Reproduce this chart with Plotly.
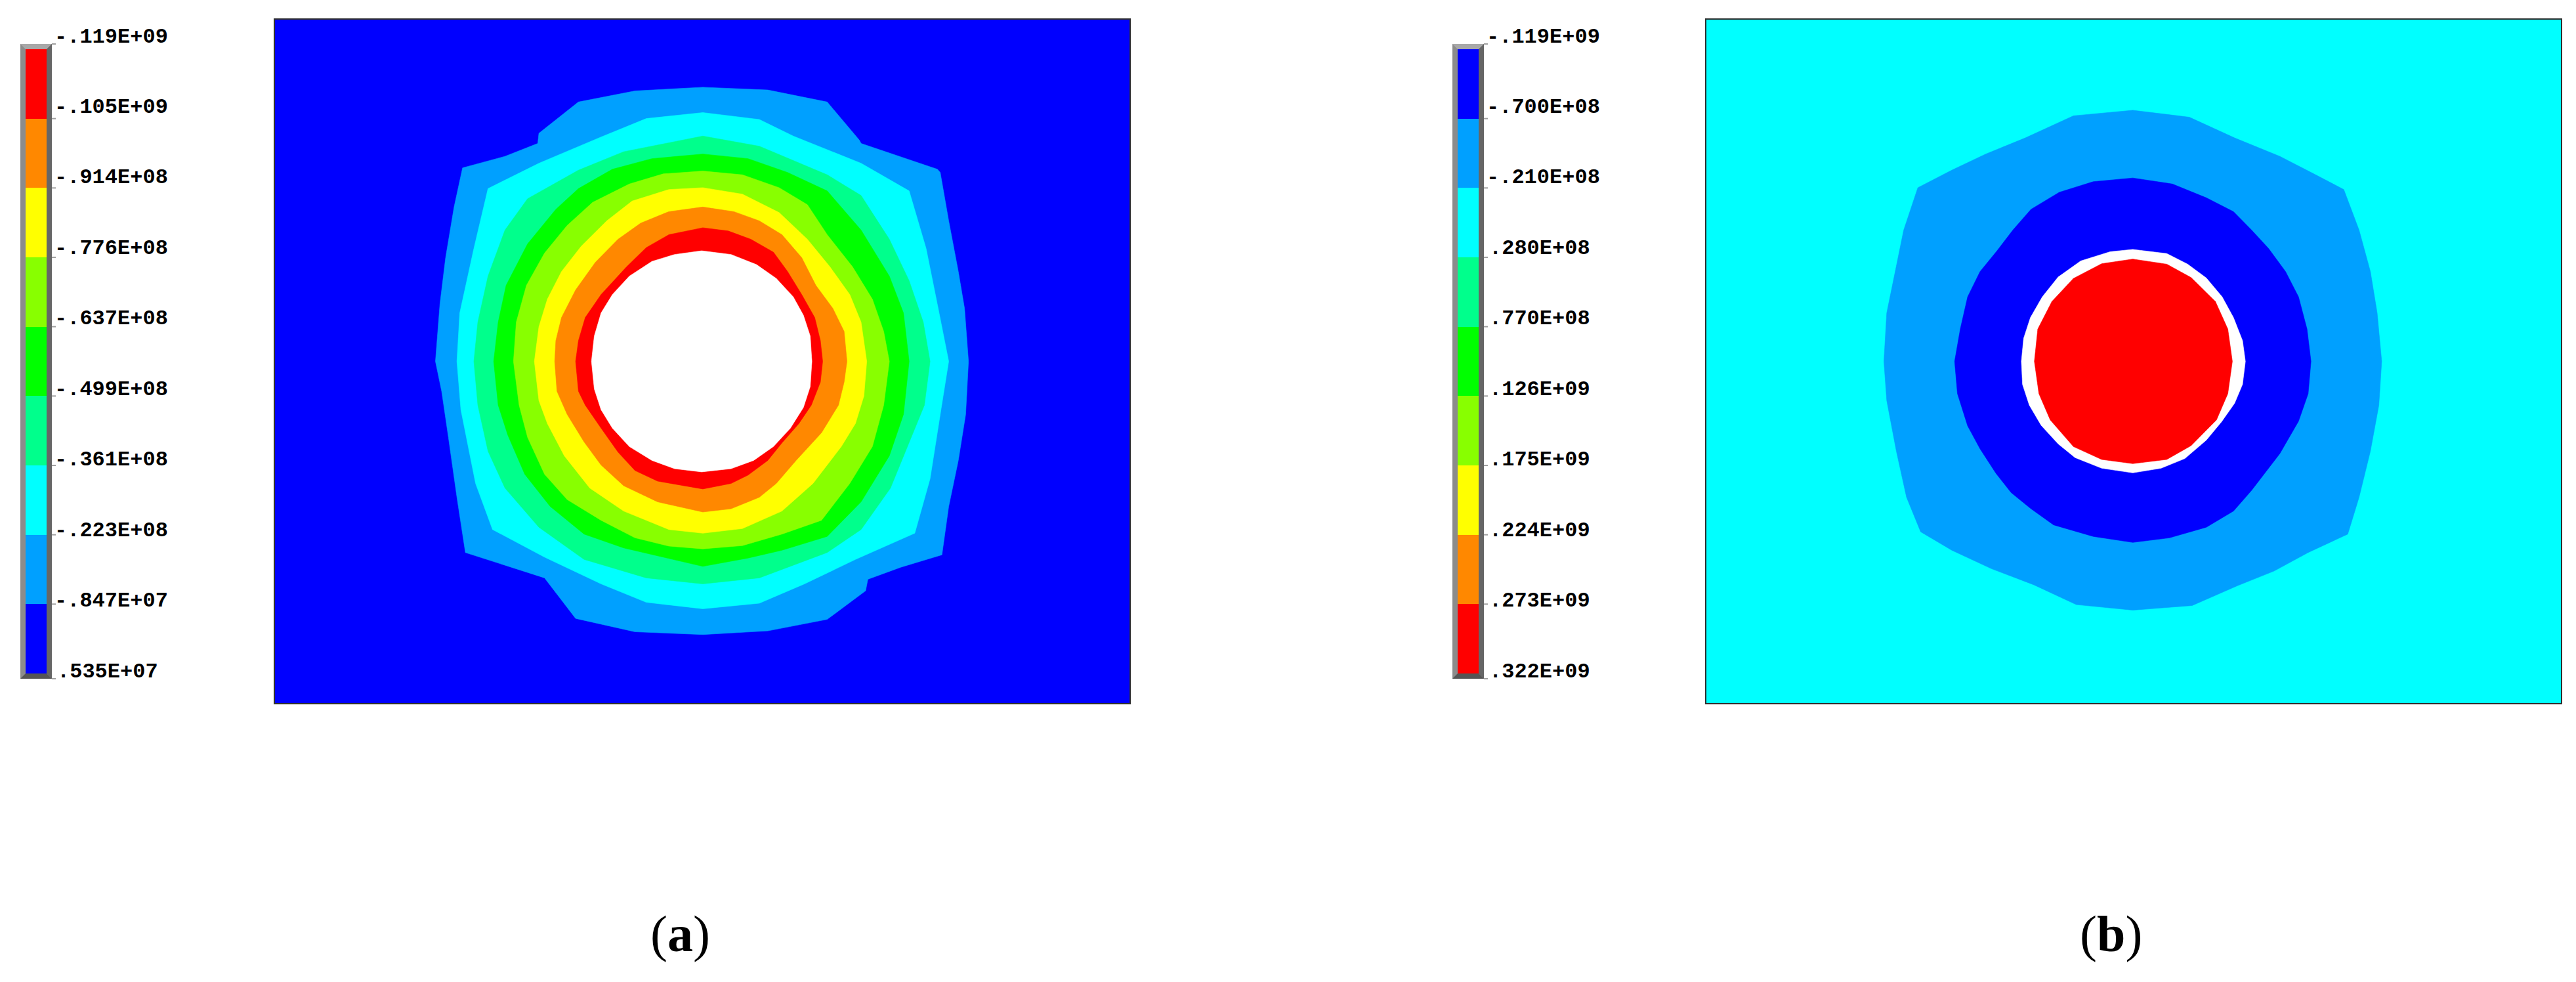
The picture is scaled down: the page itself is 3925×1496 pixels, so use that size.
import plotly.graph_objects as go

W, H = 3925, 1496

# ---------------- data ----------------
# contour band colours, lowest band index -> highest
BAND_COLORS = ["#0000FF", "#00A0FF", "#00FFFF", "#00FF8C", "#00FF00",
               "#88FF00", "#FFFF00", "#FF8800", "#FF0000"]

A_LABELS = ["-.119E+09", "-.105E+09", "-.914E+08", "-.776E+08", "-.637E+08",
            "-.499E+08", "-.361E+08", "-.223E+08", "-.847E+07", ".535E+07"]
B_LABELS = ["-.119E+09", "-.700E+08", "-.210E+08", ".280E+08", ".770E+08",
            ".126E+09", ".175E+09", ".224E+09", ".273E+09", ".322E+09"]

# colour-bar cells, bottom -> top (index into BAND_COLORS)
A_BAR = [0, 1, 2, 3, 4, 5, 6, 7, 8]
B_BAR = [8, 7, 6, 5, 4, 3, 2, 1, 0]

# model extents of the two plates (model units)
A_XRANGE = [22, 1536]
A_YRANGE = [1528, 42]
B_XRANGE = [35, 1548]
B_YRANGE = [1528, 42]

# ---- panel (a): band outlines (model units), outermost first ----
A_PLATE = [(22, 42), (1536, 42), (1536, 1528), (22, 1528)]
A_AZURE = [(780, 190), (895, 196), (1000, 222), (1057, 305), (1060, 312), (1195, 368),
           (1200, 375), (1215, 480), (1232, 590), (1243, 670), (1250, 785), (1245, 900),
           (1232, 1000), (1215, 1100), (1203, 1205), (1130, 1232), (1072, 1258),
           (1068, 1283), (1000, 1345), (895, 1370), (780, 1378), (660, 1372), (555, 1343),
           (500, 1255), (360, 1200), (345, 1080), (330, 950), (318, 850), (307, 785),
           (315, 660), (325, 560), (340, 450), (355, 365), (430, 340), (488, 312),
           (490, 290), (560, 222), (660, 198)]
A_CYAN = [(780, 245), (880, 260), (940, 296), (1000, 325), (1060, 355), (1145, 415),
          (1175, 540), (1198, 680), (1215, 785), (1200, 900), (1182, 1040), (1155, 1158),
          (1050, 1215), (960, 1268), (880, 1310), (780, 1322), (680, 1308), (600, 1268),
          (500, 1210), (408, 1150), (378, 1050), (352, 890), (345, 785), (350, 680),
          (375, 540), (400, 410), (490, 355), (600, 298), (680, 258)]
A_SPRING = [(780, 296), (880, 318), (1000, 380), (1060, 425), (1110, 520), (1145, 610),
            (1170, 700), (1182, 785), (1172, 880), (1145, 960), (1112, 1060), (1060, 1150),
            (1000, 1200), (880, 1255), (780, 1268), (680, 1255), (570, 1215), (490, 1145),
            (430, 1060), (400, 980), (382, 880), (375, 785), (382, 700), (400, 600),
            (430, 500), (470, 432), (560, 370), (640, 330)]
A_GREEN = [(780, 335), (860, 345), (930, 375), (1000, 415), (1060, 500), (1110, 600),
           (1135, 680), (1145, 785), (1135, 900), (1110, 990), (1060, 1090), (1000, 1165),
           (920, 1195), (860, 1212), (780, 1230), (710, 1210), (640, 1190), (570, 1160),
           (510, 1100), (465, 1030), (435, 945), (418, 880), (410, 785), (418, 700),
           (432, 620), (470, 530), (520, 455), (560, 410), (620, 368), (690, 345)]
A_CHART = [(780, 372), (850, 380), (915, 408), (965, 445), (1000, 510), (1045, 580),
           (1080, 650), (1100, 720), (1110, 785), (1100, 880), (1080, 970), (1040, 1050),
           (990, 1130), (920, 1160), (850, 1185), (780, 1192), (720, 1186), (660, 1168),
           (600, 1130), (540, 1085), (500, 1030), (470, 950), (455, 880), (445, 785),
           (450, 700), (468, 620), (500, 550), (540, 490), (585, 440), (650, 400), (710, 378)]
A_YELLOW = [(780, 408), (850, 422), (915, 462), (965, 520), (1005, 580), (1040, 640),
            (1060, 700), (1070, 785), (1065, 860), (1050, 920), (1025, 970), (975, 1050),
            (920, 1110), (850, 1148), (780, 1158), (720, 1150), (640, 1110), (580, 1060),
            (535, 990), (505, 920), (490, 870), (482, 785), (490, 710), (505, 650),
            (530, 590), (565, 535), (610, 480), (655, 437), (720, 412)]
A_ORANGE = [(780, 450), (835, 460), (880, 480), (920, 510), (955, 560), (980, 620),
            (1010, 670), (1030, 720), (1035, 785), (1030, 830), (1020, 880), (990, 940),
            (945, 1000), (910, 1050), (880, 1080), (830, 1105), (780, 1112), (700, 1090),
            (640, 1055), (600, 1010), (570, 960), (540, 900), (522, 850), (518, 785),
            (520, 740), (530, 690), (555, 630), (590, 570), (630, 520), (670, 485), (720, 460)]
A_RED = [(780, 495), (825, 502), (865, 520), (905, 548), (930, 590), (955, 640),
         (978, 690), (988, 740), (992, 785), (988, 830), (972, 880), (950, 920),
         (920, 962), (895, 1000), (860, 1032), (830, 1050), (780, 1062), (700, 1045),
         (660, 1022), (630, 982), (600, 930), (572, 880), (560, 850), (555, 785),
         (560, 740), (572, 690), (600, 640), (645, 580), (680, 538), (720, 510)]
A_HOLE = [(778, 545), (830, 553), (875, 575), (910, 605), (940, 645), (958, 685),
          (970, 730), (973, 785), (970, 840), (958, 885), (935, 930), (905, 970),
          (870, 1000), (830, 1018), (778, 1025), (730, 1018), (690, 1000), (650, 970),
          (620, 930), (600, 890), (588, 845), (583, 785), (588, 730), (600, 680),
          (620, 640), (650, 600), (690, 568), (730, 553)]

A_POLYS = [(A_PLATE, 0), (A_AZURE, 1), (A_CYAN, 2), (A_SPRING, 3), (A_GREEN, 4),
           (A_CHART, 5), (A_YELLOW, 6), (A_ORANGE, 7), (A_RED, 8), (A_HOLE, None)]

# ---- panel (b) ----
B_PLATE = [(35, 42), (1548, 42), (1548, 1528), (35, 1528)]
B_AZURE = [(790, 240), (890, 255), (970, 300), (1050, 340), (1110, 378), (1163, 412),
           (1190, 500), (1210, 590), (1222, 680), (1230, 785), (1225, 880), (1210, 980),
           (1190, 1080), (1170, 1160), (1100, 1200), (1040, 1240), (975, 1272),
           (895, 1315), (790, 1325), (690, 1313), (615, 1270), (540, 1235), (470, 1195),
           (415, 1155), (390, 1080), (372, 980), (355, 870), (350, 785), (355, 680),
           (370, 590), (385, 500), (410, 408), (470, 370), (530, 335), (600, 300), (685, 252)]
B_BLUE = [(790, 387), (860, 400), (920, 430), (968, 460), (1000, 500), (1030, 540),
          (1060, 590), (1083, 645), (1098, 715), (1105, 785), (1100, 855), (1083, 915),
          (1050, 985), (1000, 1065), (968, 1110), (920, 1145), (855, 1168), (790, 1178),
          (720, 1165), (650, 1140), (610, 1105), (575, 1070), (548, 1028), (520, 975),
          (498, 925), (480, 855), (475, 785), (485, 715), (498, 645), (520, 590),
          (550, 545), (578, 500), (610, 455), (660, 418), (720, 395)]
B_RING = [(790, 542), (850, 551), (887, 574), (920, 604), (948, 645), (968, 690),
          (984, 740), (989, 785), (984, 835), (970, 876), (947, 916), (920, 956),
          (882, 996), (840, 1017), (790, 1027), (735, 1017), (688, 994), (658, 964),
          (628, 924), (607, 880), (595, 835), (593, 785), (597, 735), (609, 690),
          (630, 645), (658, 602), (698, 567), (750, 547)]
B_RED = [(790, 563), (850, 574), (893, 603), (936, 655), (958, 715), (966, 785),
         (958, 855), (938, 912), (893, 968), (850, 998), (790, 1007), (735, 998),
         (685, 970), (644, 912), (624, 855), (616, 785), (622, 715), (647, 655),
         (685, 605), (735, 573)]

B_POLYS = [(B_PLATE, 2), (B_AZURE, 1), (B_BLUE, 0), (B_RING, None), (B_RED, 8)]

# ---------------- layout geometry (pixels) ----------------
A_FRAME = (418, 29, 1722, 1072)
B_FRAME = (2599, 29, 3903, 1072)
A_CB = (31, 67, 79, 1034)        # outer bevel box
B_CB = (2213, 67, 2261, 1034)
CB_BEVEL = 8
A_LABEL_X = 81
B_LABEL_X = 2263
LABEL_Y0, LABEL_Y1 = 56, 1023
LETTER_Y = 1422


def px(x):
    return x / W


def py(y):
    return 1 - y / H


fig = go.Figure()


def add_polys(polys, xa, ya):
    for pts, ci in polys:
        xs = [p[0] for p in pts] + [pts[0][0]]
        ys = [p[1] for p in pts] + [pts[0][1]]
        col = "#FFFFFF" if ci is None else BAND_COLORS[ci]
        fig.add_trace(go.Scatter(x=xs, y=ys, mode="lines", fill="toself",
                                 fillcolor=col, line=dict(width=0.6, color=col),
                                 hoverinfo="skip", showlegend=False,
                                 xaxis=xa, yaxis=ya))


add_polys(A_POLYS, "x", "y")
add_polys(B_POLYS, "x2", "y2")


def bar_trace(cells, xa, ya):
    n = len(BAND_COLORS) - 1
    cs = [[i / n, c] for i, c in enumerate(BAND_COLORS)]
    return go.Heatmap(z=[[c] for c in cells], x=[0], y=list(range(len(cells))),
                      colorscale=cs, zmin=0, zmax=n, showscale=False,
                      hoverinfo="skip", xaxis=xa, yaxis=ya, xgap=0, ygap=0)


fig.add_trace(bar_trace(A_BAR, "x3", "y3"))
fig.add_trace(bar_trace(B_BAR, "x4", "y4"))

hidden = dict(visible=False, fixedrange=True, showgrid=False, zeroline=False)


def dom_x(x0, x1):
    return [px(x0), px(x1)]


def dom_y(y0, y1):
    return [py(y1), py(y0)]


shapes = []
annotations = []

# plate frames
for (x0, y0, x1, y1) in (A_FRAME, B_FRAME):
    shapes.append(dict(type="rect", xref="paper", yref="paper",
                       x0=px(x0), x1=px(x1), y0=py(y1), y1=py(y0),
                       line=dict(color="#303030", width=2), layer="above"))


def path(pts):
    return "M " + " L ".join(f"{px(a):.6f},{py(c):.6f}" for a, c in pts) + " Z"


# colour bar bevels and ticks
for (x0, y0, x1, y1), lx, labels in ((A_CB, A_LABEL_X, A_LABELS), (B_CB, B_LABEL_X, B_LABELS)):
    b = CB_BEVEL
    shapes.append(dict(type="rect", xref="paper", yref="paper",
                       x0=px(x0), x1=px(x1), y0=py(y1), y1=py(y0),
                       fillcolor="#8C8C8C", line=dict(width=0), layer="below"))
    shapes.append(dict(type="path", xref="paper", yref="paper", layer="below",
                       path=path([(x0, y0), (x1, y0), (x1 - b, y0 + b), (x0 + b, y0 + b)]),
                       fillcolor="#A8A8A8", line=dict(width=0)))
    shapes.append(dict(type="path", xref="paper", yref="paper", layer="below",
                       path=path([(x1, y0), (x1, y1), (x1 - b, y1 - b), (x1 - b, y0 + b)]),
                       fillcolor="#666666", line=dict(width=0)))
    shapes.append(dict(type="path", xref="paper", yref="paper", layer="below",
                       path=path([(x0, y1), (x1, y1), (x1 - b, y1 - b), (x0 + b, y1 - b)]),
                       fillcolor="#555555", line=dict(width=0)))
    n = len(labels) - 1
    for k in range(n + 1):
        yb = (y0 + b) + k * ((y1 - b) - (y0 + b)) / n
        if k == 0:
            yb = y0
        if k == n:
            yb = y1
        shapes.append(dict(type="line", xref="paper", yref="paper",
                           x0=px(x1), x1=px(x1 + 6), y0=py(yb), y1=py(yb),
                           line=dict(color="#A0A0A0", width=2)))
    for k, t in enumerate(labels):
        yc = LABEL_Y0 + k * (LABEL_Y1 - LABEL_Y0) / n
        xo = lx if t.startswith("-") else lx + 4
        annotations.append(dict(xref="paper", yref="paper", x=px(xo), y=py(yc),
                                xanchor="left", yanchor="middle", showarrow=False,
                                text=t, font=dict(family="Liberation Mono", size=32,
                                                  color="#000000", weight="bold")))

# panel letters
for t, xc in (("(<b>a</b>)", 1036), ("(<b>b</b>)", 3216)):
    annotations.append(dict(xref="paper", yref="paper", x=px(xc), y=py(LETTER_Y),
                            xanchor="center", yanchor="middle", showarrow=False,
                            text=t, font=dict(family="Liberation Serif", size=78,
                                              color="#000000")))

fig.update_layout(
    width=W, height=H,
    margin=dict(l=0, r=0, t=0, b=0),
    paper_bgcolor="#FFFFFF", plot_bgcolor="#FFFFFF",
    showlegend=False,
    xaxis=dict(domain=dom_x(A_FRAME[0], A_FRAME[2]), range=A_XRANGE, **hidden),
    yaxis=dict(domain=dom_y(A_FRAME[1], A_FRAME[3]), range=A_YRANGE, **hidden),
    xaxis2=dict(domain=dom_x(B_FRAME[0], B_FRAME[2]), range=B_XRANGE, **hidden),
    yaxis2=dict(domain=dom_y(B_FRAME[1], B_FRAME[3]), range=B_YRANGE, **hidden),
    xaxis3=dict(domain=dom_x(A_CB[0] + CB_BEVEL, A_CB[2] - CB_BEVEL), range=[-0.5, 0.5], **hidden),
    yaxis3=dict(domain=dom_y(A_CB[1] + CB_BEVEL, A_CB[3] - CB_BEVEL), range=[-0.5, 8.5], **hidden),
    xaxis4=dict(domain=dom_x(B_CB[0] + CB_BEVEL, B_CB[2] - CB_BEVEL), range=[-0.5, 0.5], **hidden),
    yaxis4=dict(domain=dom_y(B_CB[1] + CB_BEVEL, B_CB[3] - CB_BEVEL), range=[-0.5, 8.5], **hidden),
    shapes=shapes,
    annotations=annotations,
)

fig.write_html("out.html", config={"displayModeBar": False},
               post_script="document.body.style.margin='0px';document.body.style.padding='0px';")
